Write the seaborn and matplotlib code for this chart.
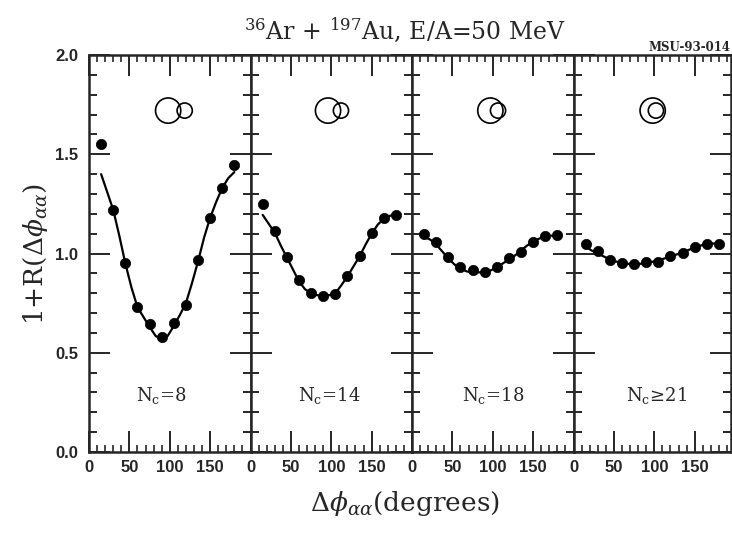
import numpy as np
import pandas as pd
import matplotlib
matplotlib.use("Agg")
import matplotlib.pyplot as plt
import seaborn as sns

# ---------------- data ----------------
panels = [r"N$_\mathrm{c}$=8", r"N$_\mathrm{c}$=14", r"N$_\mathrm{c}$=18", "N$_\\mathrm{c}$\u226521"]
dphi = [15, 30, 45, 60, 75, 90, 105, 120, 135, 150, 165, 180]
r_nc8 = [1.55, 1.22, 0.95, 0.73, 0.645, 0.577, 0.65, 0.74, 0.965, 1.18, 1.33, 1.445]
r_nc14 = [1.25, 1.115, 0.98, 0.865, 0.80, 0.785, 0.795, 0.885, 0.985, 1.105, 1.18, 1.195]
r_nc18 = [1.10, 1.06, 0.98, 0.93, 0.915, 0.905, 0.93, 0.975, 1.01, 1.06, 1.09, 1.095]
r_nc21 = [1.05, 1.015, 0.965, 0.95, 0.945, 0.955, 0.958, 0.985, 1.005, 1.033, 1.05, 1.048]

fit_phi = [15, 22.5, 30, 37.5, 45, 52.5, 60, 67.5, 75, 82.5, 90, 97.5, 105,
           112.5, 120, 127.5, 135, 142.5, 150, 157.5, 165, 172.5, 180]
fit_nc8 = [1.40, 1.31, 1.22, 1.09, 0.95, 0.83, 0.73, 0.68, 0.63, 0.585, 0.565, 0.585,
           0.635, 0.69, 0.75, 0.85, 0.96, 1.08, 1.18, 1.26, 1.33, 1.38, 1.41]
fit_nc14 = [1.195, 1.15, 1.105, 1.04, 0.98, 0.92, 0.86, 0.82, 0.80, 0.79, 0.785, 0.79,
            0.80, 0.84, 0.885, 0.935, 0.985, 1.045, 1.10, 1.145, 1.175, 1.19, 1.195]
fit_nc18 = [1.085, 1.07, 1.045, 1.01, 0.975, 0.945, 0.925, 0.91, 0.905, 0.905, 0.905, 0.915,
            0.93, 0.95, 0.97, 0.99, 1.015, 1.04, 1.06, 1.075, 1.085, 1.09, 1.09]
fit_nc21 = [1.035, 1.015, 1.0, 0.985, 0.97, 0.96, 0.952, 0.948, 0.947, 0.948, 0.952, 0.958,
            0.965, 0.975, 0.985, 0.995, 1.005, 1.018, 1.03, 1.04, 1.047, 1.05, 1.05]

# nucleus-overlap pictograms: (big circle x, small circle x) per panel, and their y
big_x = [98, 96, 97, 98]
small_x = [118.5, 112, 106.5, 102]
glyph_y = [1.72, 1.72, 1.72, 1.72]
label_x = [90, 97, 100, 103]
label_y = 0.287

x_ticks = [0, 50, 100, 150]
x_minor = [10, 20, 30, 40, 60, 70, 80, 90, 110, 120, 130, 140, 160, 170, 180, 190]
y_tick_pos = [0.0, 0.1, 0.2, 0.3, 0.4, 0.5, 0.6, 0.7, 0.8, 0.9, 1.0,
              1.1, 1.2, 1.3, 1.4, 1.5, 1.6, 1.7, 1.8, 1.9, 2.0]
y_tick_labels = ["0.0", "", "", "", "", "0.5", "", "", "", "", "1.0",
                 "", "", "", "", "1.5", "", "", "", "", "2.0"]

points = pd.DataFrame({
    "panel": np.repeat(panels, len(dphi)),
    "dphi": dphi * 4,
    "r": r_nc8 + r_nc14 + r_nc18 + r_nc21,
})
fits = pd.DataFrame({
    "panel": np.repeat(panels, len(fit_phi)),
    "dphi": fit_phi * 4,
    "r": fit_nc8 + fit_nc14 + fit_nc18 + fit_nc21,
})

# ---------------- style ----------------
sns.set_style("ticks")
plt.rcParams["font.family"] = ["DejaVu Serif"]
plt.rcParams["mathtext.fontset"] = "dejavuserif"
plt.rcParams["axes.linewidth"] = 1.8

fig = plt.figure(figsize=(7.32, 5.33), dpi=100)
W, H = 732, 533
gs = fig.add_gridspec(1, 4, left=89 / W, right=731 / W, bottom=1 - 452 / H, top=1 - 55 / H,
                      wspace=0, width_ratios=[200, 200, 200, 195])
xmax = [200, 200, 200, 195]

tickfont = dict(family="Liberation Sans", weight="bold", size=12)

for i, name in enumerate(panels):
    ax = fig.add_subplot(gs[0, i])
    sub_p = points[points["panel"] == name]
    sub_f = fits[fits["panel"] == name]
    sns.lineplot(data=sub_f, x="dphi", y="r", ax=ax, color="black", lw=1.6,
                 sort=True, estimator=None)
    sns.scatterplot(data=sub_p, x="dphi", y="r", ax=ax, color="black", s=55,
                    edgecolor="black", linewidth=0.5, zorder=5)
    # pictogram of overlapping nuclei
    ax.scatter([big_x[i]], [glyph_y[i]], s=330, facecolors="none", edgecolors="black", linewidths=1.2)
    ax.scatter([small_x[i]], [glyph_y[i]], s=120, facecolors="none", edgecolors="black", linewidths=1.2)
    ax.text(label_x[i], label_y, name, ha="center", va="center", fontsize=13,
            family="DejaVu Serif")

    ax.set_xlim(0, xmax[i])
    ax.set_ylim(0, 2.0)
    ax.set_xlabel("")
    ax.set_ylabel("")
    for s in ax.spines.values():
        s.set_visible(True)
        s.set_linewidth(1.8)
    ax.set_xticks(x_ticks)
    ax.set_xticks([t for t in x_minor if t < xmax[i]], minor=True)
    ax.set_xticklabels([str(t) for t in x_ticks], fontdict=tickfont)
    ax.tick_params(axis="x", which="major", direction="in", top=True, bottom=True,
                   length=15, width=1.4, pad=6)
    ax.tick_params(axis="x", which="minor", direction="in", top=True, bottom=True,
                   length=5, width=1.2)

    ax.set_yticks(y_tick_pos)
    if i == 0:
        ax.set_yticklabels(y_tick_labels, fontdict=tickfont)
        ax.tick_params(axis="y", which="major", direction="in", left=True, right=False,
                       length=15, width=1.4, pad=8)
        long_len, short_len = 15, 6
    else:
        ax.tick_params(axis="y", which="major", direction="inout", left=True,
                       right=(i == 3), length=30, width=1.4, labelleft=False)
        long_len, short_len = 30, 11
    # long ticks at the labelled values, short ones in between
    for tk, lab in zip(ax.yaxis.get_major_ticks(), y_tick_labels):
        L = long_len if lab else short_len
        tk.tick1line.set_markersize(L)
        tk.tick2line.set_markersize(L)

fig.text(405 / W, 1 - 30 / H, r"$^{36}$Ar + $^{197}$Au, E/A=50 MeV", ha="center",
         va="center", fontsize=17, family="DejaVu Serif")
fig.text(730 / W, 1 - 54 / H, "MSU-93-014", ha="right", va="bottom", fontsize=8.5,
         weight="bold", family="DejaVu Serif")
fig.text(405 / W, 1 - 503 / H, r"$\Delta\phi_{\alpha\alpha}$(degrees)", ha="center",
         va="center", fontsize=19, family="DejaVu Serif")
fig.text(36 / W, 1 - 254 / H, r"1+R($\Delta\phi_{\alpha\alpha}$)", ha="center",
         va="center", rotation=90, fontsize=19, family="DejaVu Serif")

fig.savefig("out.png", dpi=100)
